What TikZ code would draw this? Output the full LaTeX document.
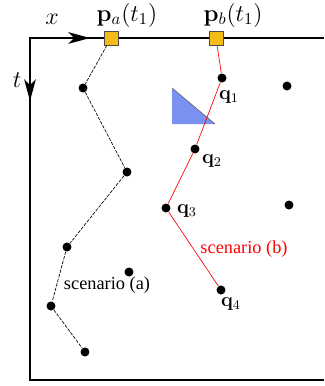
\documentclass[tikz,border=0pt]{standalone}
\usepackage[no-math]{fontspec}
\setmainfont{Liberation Serif}
\usepackage{amsmath, amssymb}
\usetikzlibrary{arrows.meta}
\definecolor{probeOrange}{RGB}{245, 188, 24}
\definecolor{coneBlue}{RGB}{122, 145, 242}

\begin{document}
\begin{tikzpicture}[x=0.6pt, y=-0.6pt,
    dot/.style={circle, fill=black, inner sep=0pt, minimum size=5.4pt},
    probe/.style={draw=black!70, fill=probeOrange, inner sep=0pt, minimum size=8.5pt},
    trajA/.style={thin, dash pattern=on 2pt off 0.8pt},
    trajB/.style={red, thin},
    axis/.style={line width=1.1pt, line join=miter},
    bigtip/.style={-{Stealth[length=13pt, width=7pt, inset=3.5pt]}},
    qlab/.style={font=\fontsize{11.5}{13}\selectfont}]
  \useasboundingbox (0,0) rectangle (324,386);
  % frame and axes
  \draw[axis] (324,38) -- (30,38) -- (30,380) -- (324,380);
  \draw[axis, bigtip] (30,38) -- (90,38);
  \draw[axis, bigtip] (30,38) -- (30,101);
  \node[font=\Large] (xlab) at (52,19) {$x$};
  \node[font=\Large] (tlab) at (17,80) {$t$};
  % blue cone
  \fill[coneBlue] (172,88) -- (172,124) -- (215,124) -- cycle;
  \draw[black!60] (172,88) -- (215,124);
  % positions at t1
  \node[probe] (pa) at (111,38) {};
  \node[probe] (pb) at (216,38) {};
  \node[font=\Large] (palab) at (127,15) {$\mathbf{p}_a(t_1)$};
  \node[font=\Large] (pblab) at (233,15) {$\mathbf{p}_b(t_1)$};
  % scenario (a)
  \node[dot] (a1) at (83,88) {};
  \node[dot] (a2) at (127,172) {};
  \node[dot] (a3) at (67,247) {};
  \node[dot] (a4) at (51,306) {};
  \node[dot] (a5) at (85,352) {};
  \draw[trajA] (pa) -- (a1) -- (a2) -- (a3) -- (a4) -- (a5);
  \node[font=\fontsize{11}{13}\selectfont] (alab) at (107,285) {scenario (a)};
  % scenario (b)
  \node[dot] (q1) at (222,78) {};
  \node[dot] (q2) at (195,149) {};
  \node[dot] (q3) at (166,208) {};
  \node[dot] (q4) at (221,290) {};
  \draw[trajB] (pb) -- (q1) -- (q2) -- (q3) -- (q4);
  \node[qlab] (q1lab) at (229,97) {$\mathbf{q}_1$};
  \node[qlab] (q2lab) at (212,161) {$\mathbf{q}_2$};
  \node[qlab] (q3lab) at (187,211) {$\mathbf{q}_3$};
  \node[qlab] (q4lab) at (231,304) {$\mathbf{q}_4$};
  \node[red, font=\fontsize{11}{13}\selectfont] (blab) at (244,249) {scenario (b)};
  % other points
  \node[dot] (o1) at (129,272) {};
  \node[dot] (o2) at (287,86) {};
  \node[dot] (o3) at (289,205) {};
\end{tikzpicture}
\end{document}
